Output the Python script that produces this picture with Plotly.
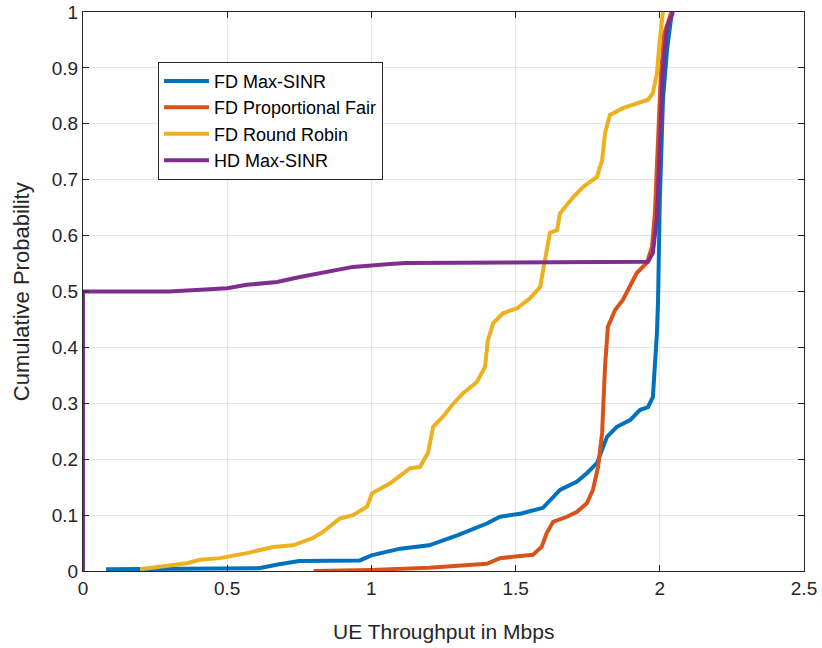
import plotly.graph_objects as go

# Empirical CDFs of UE throughput (Mbps) for the four scheduling schemes
fd_maxsinr_x = [0.08, 0.30, 0.61, 0.68, 0.75, 0.96, 1.0, 1.1, 1.2, 1.3, 1.4, 1.446, 1.52, 1.595,
                1.654, 1.713, 1.747, 1.782, 1.817, 1.851, 1.897, 1.931, 1.959, 1.976, 1.983,
                1.99, 1.994, 2.0, 2.011, 2.025, 2.042]
fd_maxsinr_y = [0.003, 0.004, 0.005, 0.012, 0.018, 0.019, 0.028, 0.04, 0.046, 0.064, 0.085, 0.097,
                0.103, 0.113, 0.145, 0.16, 0.175, 0.193, 0.24, 0.258, 0.27, 0.288, 0.293, 0.311,
                0.365, 0.426, 0.485, 0.664, 0.843, 0.932, 1.0]

fd_pf_x = [0.80, 1.0, 1.2, 1.4, 1.446, 1.491, 1.56, 1.59, 1.608, 1.63, 1.678, 1.713, 1.747,
           1.768, 1.786, 1.80, 1.81, 1.82, 1.845, 1.872, 1.92, 1.955, 1.973, 1.983, 1.993,
           2.003, 2.015, 2.04]
fd_pf_y = [0.0, 0.002, 0.006, 0.013, 0.023, 0.025, 0.029, 0.043, 0.068, 0.088, 0.097, 0.106,
           0.121, 0.145, 0.186, 0.247, 0.365, 0.437, 0.467, 0.485, 0.533, 0.551, 0.58, 0.64,
           0.75, 0.88, 0.96, 1.0]

fd_rr_x = [0.198, 0.267, 0.36, 0.406, 0.475, 0.568, 0.659, 0.728, 0.797, 0.832, 0.891, 0.936,
           0.985, 1.002, 1.065, 1.134, 1.168, 1.196, 1.214, 1.248, 1.28, 1.318, 1.366, 1.394,
           1.404, 1.422, 1.456, 1.505, 1.55, 1.585, 1.602, 1.619, 1.644, 1.654, 1.7, 1.734,
           1.782, 1.80, 1.81, 1.827, 1.872, 1.92, 1.959, 1.976, 1.99, 2.0, 2.011]
fd_rr_y = [0.003, 0.007, 0.014, 0.02, 0.023, 0.032, 0.043, 0.046, 0.059, 0.07, 0.094, 0.10,
           0.115, 0.139, 0.157, 0.184, 0.186, 0.211, 0.258, 0.276, 0.297, 0.318, 0.338, 0.365,
           0.413, 0.443, 0.461, 0.47, 0.488, 0.508, 0.556, 0.605, 0.61, 0.64, 0.669, 0.687,
           0.705, 0.735, 0.783, 0.816, 0.828, 0.837, 0.843, 0.855, 0.89, 0.95, 1.0]

hd_maxsinr_x = [0.0, 0.0, 0.30, 0.416, 0.50, 0.568, 0.673, 0.752, 0.845, 0.936, 1.065, 1.12,
                1.959, 1.976, 1.99, 2.0, 2.011, 2.025, 2.046]
hd_maxsinr_y = [0.0, 0.5, 0.5, 0.503, 0.506, 0.512, 0.517, 0.526, 0.535, 0.544, 0.549, 0.551,
                0.553, 0.569, 0.633, 0.783, 0.90, 0.973, 1.0]

series = [
    ("FD Max-SINR", fd_maxsinr_x, fd_maxsinr_y, "#0072BD"),
    ("FD Proportional Fair", fd_pf_x, fd_pf_y, "#D95319"),
    ("FD Round Robin", fd_rr_x, fd_rr_y, "#EDB120"),
    ("HD Max-SINR", hd_maxsinr_x, hd_maxsinr_y, "#7E2F8E"),
]

x_ticks = [0, 0.5, 1, 1.5, 2, 2.5]
x_tick_labels = ["0", "0.5", "1", "1.5", "2", "2.5"]
y_ticks = [0, 0.1, 0.2, 0.3, 0.4, 0.5, 0.6, 0.7, 0.8, 0.9, 1]
y_tick_labels = ["0", "0.1", "0.2", "0.3", "0.4", "0.5", "0.6", "0.7", "0.8", "0.9", "1"]

fig = go.Figure()
for name, xs, ys, color in series:
    fig.add_trace(go.Scatter(x=xs, y=ys, mode="lines", name=name,
                             line=dict(color=color, width=4)))

font_family = "Liberation Sans, Arial, sans-serif"
axis_common = dict(
    showgrid=True, gridcolor="#E5E5E5", gridwidth=1,
    showline=True, linecolor="#262626", linewidth=1, mirror="ticks",
    ticks="inside", ticklen=6, tickcolor="#262626",
    zeroline=False, automargin=False,
    tickfont=dict(size=19, color="#262626", family=font_family),
)

fig.update_layout(
    width=822, height=648,
    margin=dict(l=83, r=18, t=12, b=77),
    paper_bgcolor="white", plot_bgcolor="white",
    font=dict(family=font_family, color="#262626"),
    xaxis=dict(range=[0, 2.5], tickvals=x_ticks, ticktext=x_tick_labels, **axis_common),
    yaxis=dict(range=[0, 1], tickvals=y_ticks, ticktext=y_tick_labels, **axis_common),
    legend=dict(x=0.104, y=0.911, xanchor="left", yanchor="top",
                bgcolor="white", bordercolor="#262626", borderwidth=1,
                font=dict(size=18, color="#000000"), tracegroupgap=0,
                itemwidth=45),
    showlegend=True,
)

# Axis titles placed as paper annotations
fig.add_annotation(text="UE Throughput in Mbps", xref="paper", yref="paper",
                   x=0.5, y=-0.109, xanchor="center", yanchor="middle",
                   showarrow=False, font=dict(size=21, color="#262626"))
fig.add_annotation(text="Cumulative Probability", xref="paper", yref="paper",
                   x=-0.085, y=0.5, xanchor="center", yanchor="middle", textangle=-90,
                   showarrow=False, font=dict(size=22, color="#262626"))

fig.write_html("out.html")
